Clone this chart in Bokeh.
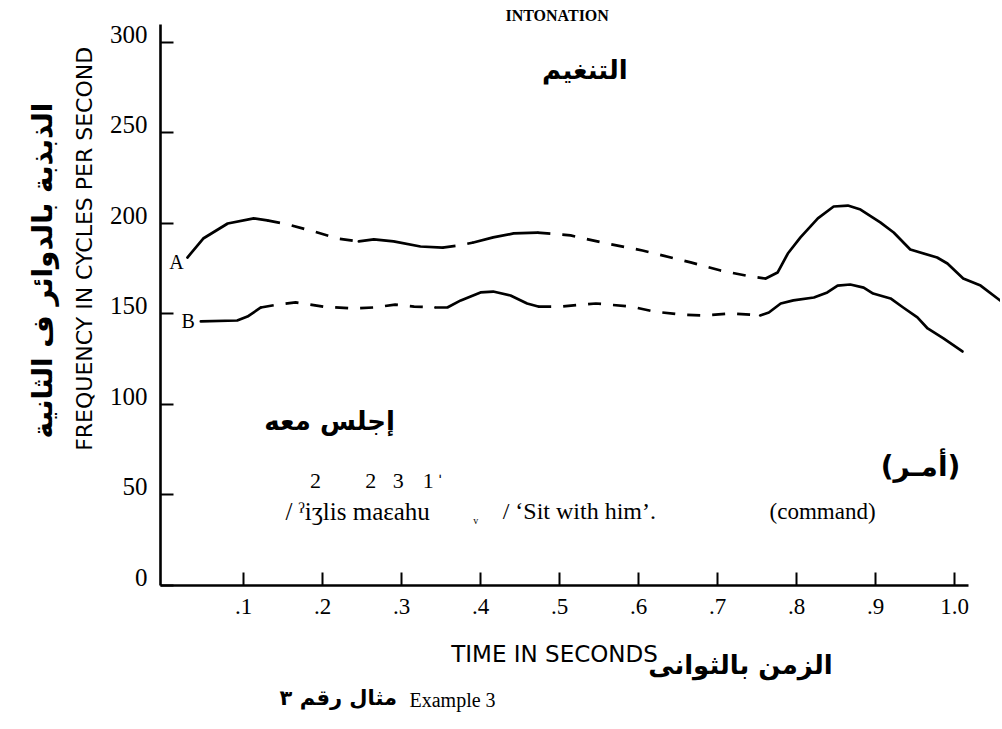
import math
from bokeh.plotting import figure
from bokeh.models import Label, FixedTicker, Range1d, LinearAxis
from bokeh.embed import file_html
from bokeh.resources import INLINE

# ---- data ----
# curve A: time (s) and frequency (cps)
A_time = [0.029, 0.049, 0.080, 0.113, 0.130, 0.157, 0.189, 0.219, 0.246, 0.265,
          0.290, 0.324, 0.352, 0.372, 0.391, 0.416, 0.442, 0.472, 0.514, 0.559,
          0.605, 0.666, 0.704, 0.742, 0.761, 0.776, 0.789, 0.805, 0.827, 0.847,
          0.865, 0.881, 0.906, 0.923, 0.944, 0.978, 0.991, 1.011, 1.033, 1.061]
A_freq = [181.2, 191.7, 200.0, 202.8, 201.7, 199.4, 195.6, 191.7, 190.1, 191.2,
          190.1, 187.3, 186.7, 187.8, 189.5, 192.3, 194.5, 195.0, 193.4, 189.0,
          185.1, 178.5, 174.0, 170.7, 169.6, 172.9, 183.4, 192.3, 202.8, 209.4,
          209.9, 207.7, 200.6, 195.0, 185.6, 181.2, 177.9, 169.6, 165.7, 156.4]
A_dashed_spans = [(0.130, 0.246), (0.352, 0.391), (0.472, 0.761)]

# curve B
B_time = [0.046, 0.092, 0.105, 0.122, 0.143, 0.166, 0.201, 0.239, 0.265, 0.292,
          0.316, 0.343, 0.358, 0.375, 0.400, 0.416, 0.438, 0.459, 0.473, 0.501,
          0.546, 0.591, 0.619, 0.653, 0.681, 0.719, 0.754, 0.765, 0.780, 0.796,
          0.822, 0.839, 0.852, 0.868, 0.885, 0.897, 0.919, 0.935, 0.953, 0.966,
          0.986, 1.010]
B_freq = [145.9, 146.4, 148.6, 153.6, 155.2, 156.4, 154.1, 153.0, 153.6, 155.2,
          154.1, 153.6, 153.6, 157.5, 161.9, 162.4, 160.2, 155.8, 154.1, 154.1,
          155.8, 154.1, 151.4, 149.7, 149.2, 150.3, 149.2, 150.8, 155.8, 157.5,
          159.1, 161.9, 165.7, 166.3, 164.6, 161.3, 158.6, 153.6, 148.1, 142.0,
          136.5, 129.3]
B_dashed_spans = [(0.122, 0.343), (0.473, 0.754)]

x_ticks = [0.1, 0.2, 0.3, 0.4, 0.5, 0.6, 0.7, 0.8, 0.9, 1.0]
x_tick_labels = [".1", ".2", ".3", ".4", ".5", ".6", ".7", ".8", ".9", "1.0"]
y_ticks = [0, 50, 100, 150, 200, 250, 300]
y_tick_labels = ["0", "50", "100", "150", "200", "250", "300"]

tone_marks = ["2", "2", "3", "1", "ˈ"]
tone_mark_time = [0.191, 0.261, 0.296, 0.334, 0.349]

SERIF = "Liberation Serif"
SANS = "DejaVu Sans"
ARAB = "DejaVu Sans"

p = figure(width=1000, height=725, output_backend="svg", toolbar_location=None,
           x_range=Range1d(-0.2076, 1.0582), y_range=Range1d(-77.35, 323.2),
           min_border_left=0, min_border_right=0, min_border_top=0,
           min_border_bottom=0, x_axis_type=None, y_axis_type=None)
p.grid.visible = False
p.outline_line_color = None
p.background_fill_color = "white"
p.border_fill_color = "white"

xa = LinearAxis(ticker=FixedTicker(ticks=x_ticks),
                major_label_overrides=dict(zip(x_ticks, x_tick_labels)),
                fixed_location=0)
xa.bounds = (-0.005, 1.018)
xa.axis_line_width = 2.6
xa.axis_line_color = "black"
xa.major_tick_in = 13
xa.major_tick_out = 0
xa.major_tick_line_width = 2
xa.minor_tick_line_color = None
xa.major_label_standoff = 14
xa.major_label_text_font = SERIF
xa.major_label_text_font_size = "23px"
xa.major_label_text_color = "black"
p.add_layout(xa, "below")

ya = LinearAxis(ticker=FixedTicker(ticks=y_ticks), fixed_location=-0.005)
ya.bounds = (0, 310)
ya.axis_line_width = 2.6
ya.axis_line_color = "black"
ya.major_tick_in = 13
ya.major_tick_out = 0
ya.major_tick_line_width = 2
ya.minor_tick_line_color = None
ya.major_label_text_font_size = "0px"
ya.major_label_text_alpha = 0
p.add_layout(ya, "left")


def lab(x, y, text, size, font, bold=False, angle=0.0, align="center",
        baseline="middle", dy=0):
    p.add_layout(Label(x=x, y=y, text=text, text_font=font,
                       text_font_size=f"{size}px",
                       text_font_style="bold" if bold else "normal",
                       text_align=align, text_baseline=baseline, angle=angle,
                       y_offset=dy, text_color="black"))


# y tick labels sit a little above their ticks, as in the printed figure
for v, t in zip(y_ticks, y_tick_labels):
    lab(-0.0215, v, t, 25, SERIF, align="right", dy=8)


def draw_curve(t, f, spans):
    runs = []
    cur = None
    for i in range(len(t) - 1):
        mid = (t[i] + t[i + 1]) / 2
        dashed = any(a <= mid <= b for a, b in spans)
        if dashed != cur:
            runs.append([dashed, [t[i]], [f[i]]])
            cur = dashed
        runs[-1][1].append(t[i + 1])
        runs[-1][2].append(f[i + 1])
    for dashed, xs, ys in runs:
        if dashed:
            p.line(xs, ys, line_color="black", line_width=2.7, line_dash="13 12",
                   line_cap="butt")
        else:
            p.line(xs, ys, line_color="black", line_width=2.7, line_join="round",
                   line_cap="round")


draw_curve(A_time, A_freq, A_dashed_spans)
draw_curve(B_time, B_freq, B_dashed_spans)

# titles
lab(0.497, 315, "INTONATION", 16, SERIF, bold=True)
lab(0.532, 285, "التنغيم", 26, ARAB, bold=True)

# curve labels
lab(0.015, 178.5, "A", 20, SERIF)
lab(0.030, 146, "B", 20, SERIF)

# transcription
lab(0.209, 91, "إجلس معه", 26, ARAB, bold=True)
for t, m in zip(tone_marks, tone_mark_time):
    lab(m, 57.5, t, 22, SERIF)
lab(0.153, 40.9, "/ ˀiʒlis maɛahu", 25, SERIF, align="left")
lab(0.394, 36, "v", 10, SERIF)
lab(0.428, 40.9, "/  ‘Sit with him’.", 24, SERIF, align="left")
lab(0.833, 40.9, "(command)", 23, SERIF)
lab(0.957, 66, "(أمـر)", 28, ARAB, bold=True)

# axis titles
lab(-0.1013, 186, "FREQUENCY IN CYCLES PER SECOND", 22, SANS, angle=math.pi / 2)
lab(-0.1544, 174, "الذبذبة بالدوائر ف الثانية", 28, ARAB, bold=True,
    angle=math.pi / 2)
lab(0.4937, -38, "TIME IN SECONDS", 23, SANS)
lab(0.729, -44, "الزمن بالثوانى", 26, ARAB, bold=True)
lab(0.220, -62, "مثال رقم ٣", 21, ARAB, bold=True)
lab(0.3646, -63.5, "Example 3", 20, SERIF)

open("out.html", "w").write(file_html(p, INLINE))
